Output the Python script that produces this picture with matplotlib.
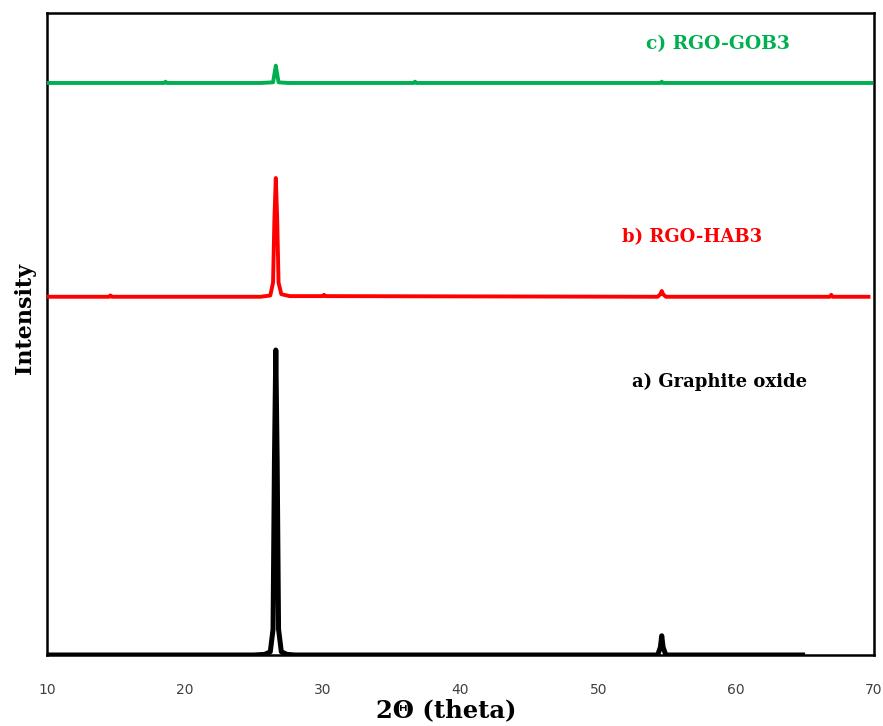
import matplotlib
matplotlib.use("Agg")
import matplotlib.pyplot as plt

# Graphite oxide (a) - black
x_a = [10, 25.0, 25.8, 26.2, 26.4, 26.5, 26.6, 26.7, 26.8, 27.0, 27.4, 28.0,
       54.3, 54.5, 54.6, 54.7, 54.9, 65]
y_a = [0, 0, 1, 5, 40, 300, 475, 300, 40, 5, 1, 0,
       0, 12, 30, 12, 0, 0]

# RGO-HAB3 (b) - red
x_b = [10, 14.5, 14.6, 14.7, 25.5, 26.2, 26.4, 26.5, 26.6, 26.7, 26.8, 27.0, 27.6,
       30.0, 30.1, 30.2, 54.3, 54.5, 54.6, 54.7, 54.9, 66.8, 66.9, 67.0, 69.6]
y_b = [558, 558, 560, 558, 558, 560, 580, 680, 743, 680, 580, 562, 559,
       559, 561, 559, 558, 562, 567, 562, 558, 558, 561, 558, 558]

# RGO-GOB3 (c) - green
x_c = [10, 18.5, 18.6, 18.7, 25.5, 26.4, 26.5, 26.6, 26.7, 26.8, 27.5,
       36.6, 36.7, 36.8, 54.5, 54.6, 54.7, 69.8]
y_c = [891, 891, 893, 891, 891, 892, 905, 918, 905, 892, 891,
       891, 893, 891, 891, 893, 891, 891]

xticks = [10, 20, 30, 40, 50, 60, 70]
labels = ["a) Graphite oxide", "b) RGO-HAB3", "c) RGO-GOB3"]

fig = plt.figure(figsize=(8.83, 7.26), dpi=100)
ax = fig.add_axes([47/883, 1-655/726, (874-47)/883, (655-13)/726])

ax.plot(x_a, y_a, color="black", lw=3.6, solid_joinstyle="round", solid_capstyle="butt", zorder=3)
ax.plot(x_b, y_b, color="#FF0000", lw=2.8, solid_joinstyle="round", zorder=3)
ax.plot(x_c, y_c, color="#00B050", lw=2.8, solid_joinstyle="round", zorder=3)

ax.set_xlim(10, 70)
ax.set_ylim(0, 1000)
ax.set_xticks(xticks)
ax.set_xticklabels([str(t) for t in xticks])
ax.set_yticks([])
ax.tick_params(axis="x", length=0, pad=20, labelsize=10, labelcolor="#404040")
for s in ax.spines.values():
    s.set_linewidth(1.8)
    s.set_color("black")

serif = ["DejaVu Serif"]
ax.text(58.8, 425, labels[0], color="black", fontsize=13, fontweight="bold",
        family=serif, ha="center", va="center")
ax.text(56.8, 651, labels[1], color="#FF0000", fontsize=13, fontweight="bold",
        family=serif, ha="center", va="center")
ax.text(58.7, 952, labels[2], color="#00B050", fontsize=13.5, fontweight="bold",
        family=serif, ha="center", va="center")

fig.text(25/883, 1-318/726, "Intensity", rotation=90, fontsize=16, fontweight="bold",
         family=serif, ha="center", va="center")
fig.text(446/883, 1-710/726, "2Θ (theta)", fontsize=17.5, fontweight="bold",
         family=serif, ha="center", va="center")

fig.savefig("out.png", dpi=100)
